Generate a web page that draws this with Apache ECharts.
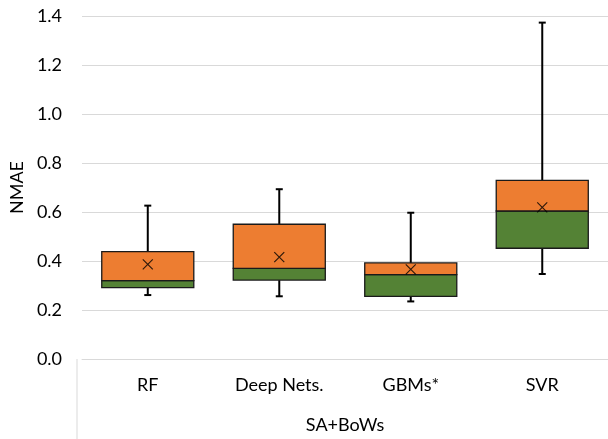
<!DOCTYPE html>
<html><head><meta charset="utf-8">
<script src="https://cdn.jsdelivr.net/npm/echarts@6/dist/echarts.min.js"></script>
<style>html,body{margin:0;padding:0;background:#fff}#c{width:608px;height:439px}</style>
</head><body><div id="c"></div>
<script>
const categories = ['RF', 'Deep Nets.', 'GBMs*', 'SVR'];
const whiskerLow = [0.261, 0.256, 0.235, 0.347];
const q1 = [0.291, 0.322, 0.256, 0.452];
const median = [0.320, 0.370, 0.344, 0.604];
const q3 = [0.438, 0.550, 0.392, 0.729];
const whiskerHigh = [0.626, 0.693, 0.597, 1.373];
const mean = [0.386, 0.416, 0.366, 0.619];
const groupLabel = 'SA+BoWs';
const yTicks = { min: 0, max: 1.4, interval: 0.2 };

const font = 'Lato, "Open Sans", sans-serif';
const boxData = categories.map((c, i) => [i, whiskerLow[i], q1[i], median[i], q3[i], whiskerHigh[i]]);
const meanData = categories.map((c, i) => [i, mean[i]]);

const chart = echarts.init(document.getElementById('c'));
chart.setOption({
  animation: false,
  grid: { left: 77, top: 16, bottom: 80, width: 535 },
  xAxis: {
    type: 'category', data: categories,
    axisLine: { show: true, lineStyle: { color: '#d9d9d9', width: 1 } },
    axisTick: { show: false },
    axisLabel: { color: '#000', fontFamily: font, fontSize: 18, margin: 17 },
    name: groupLabel, nameLocation: 'middle', nameGap: 57,
    nameTextStyle: { color: '#000', fontFamily: font, fontSize: 18 }
  },
  yAxis: {
    type: 'value', min: yTicks.min, max: yTicks.max, interval: yTicks.interval,
    axisLine: { show: false }, axisTick: { show: false },
    splitLine: { lineStyle: { color: '#d9d9d9', width: 1 } },
    axisLabel: { color: '#000', fontFamily: font, fontSize: 18, margin: 20, formatter: v => v.toFixed(1) },
    name: 'NMAE', nameLocation: 'middle', nameGap: 54, nameRotate: 90,
    nameTextStyle: { color: '#000', fontFamily: font, fontSize: 18 }
  },
  graphic: [{ type: 'line', shape: { x1: 77, y1: 359, x2: 77, y2: 439 }, style: { stroke: '#d9d9d9', lineWidth: 1 } }],
  series: [
    {
      type: 'custom',
      data: boxData,
      encode: { x: 0, y: [1, 2, 3, 4, 5] },
      renderItem: function (params, api) {
        const x = api.value(0);
        const bw = api.size([1, 0])[0] * 0.7;
        const p = k => api.coord([x, api.value(k)]);
        const lo = p(1), a = p(2), m = p(3), b = p(4), hi = p(5);
        const cx = lo[0];
        const line = { stroke: '#000', lineWidth: 2 };
        const boxStroke = { stroke: '#1a1a1a', lineWidth: 1.3 };
        return {
          type: 'group',
          children: [
            { type: 'line', shape: { x1: cx, y1: hi[1], x2: cx, y2: b[1] }, style: line },
            { type: 'line', shape: { x1: cx, y1: a[1], x2: cx, y2: lo[1] }, style: line },
            { type: 'line', shape: { x1: cx - 3.5, y1: hi[1], x2: cx + 3.5, y2: hi[1] }, style: line },
            { type: 'line', shape: { x1: cx - 3.5, y1: lo[1], x2: cx + 3.5, y2: lo[1] }, style: line },
            { type: 'rect', shape: { x: cx - bw / 2, y: m[1], width: bw, height: a[1] - m[1] }, style: Object.assign({ fill: '#548235' }, boxStroke) },
            { type: 'rect', shape: { x: cx - bw / 2, y: b[1], width: bw, height: m[1] - b[1] }, style: Object.assign({ fill: '#ED7D31' }, boxStroke) }
          ]
        };
      },
      z: 2
    },
    {
      type: 'scatter',
      data: meanData,
      symbol: 'path://M0,0L10,10M10,0L0,10',
      symbolSize: 10,
      itemStyle: { color: 'rgba(0,0,0,0)', borderColor: '#000', borderWidth: 1.2 },
      z: 3
    }
  ]
});
</script></body></html>
